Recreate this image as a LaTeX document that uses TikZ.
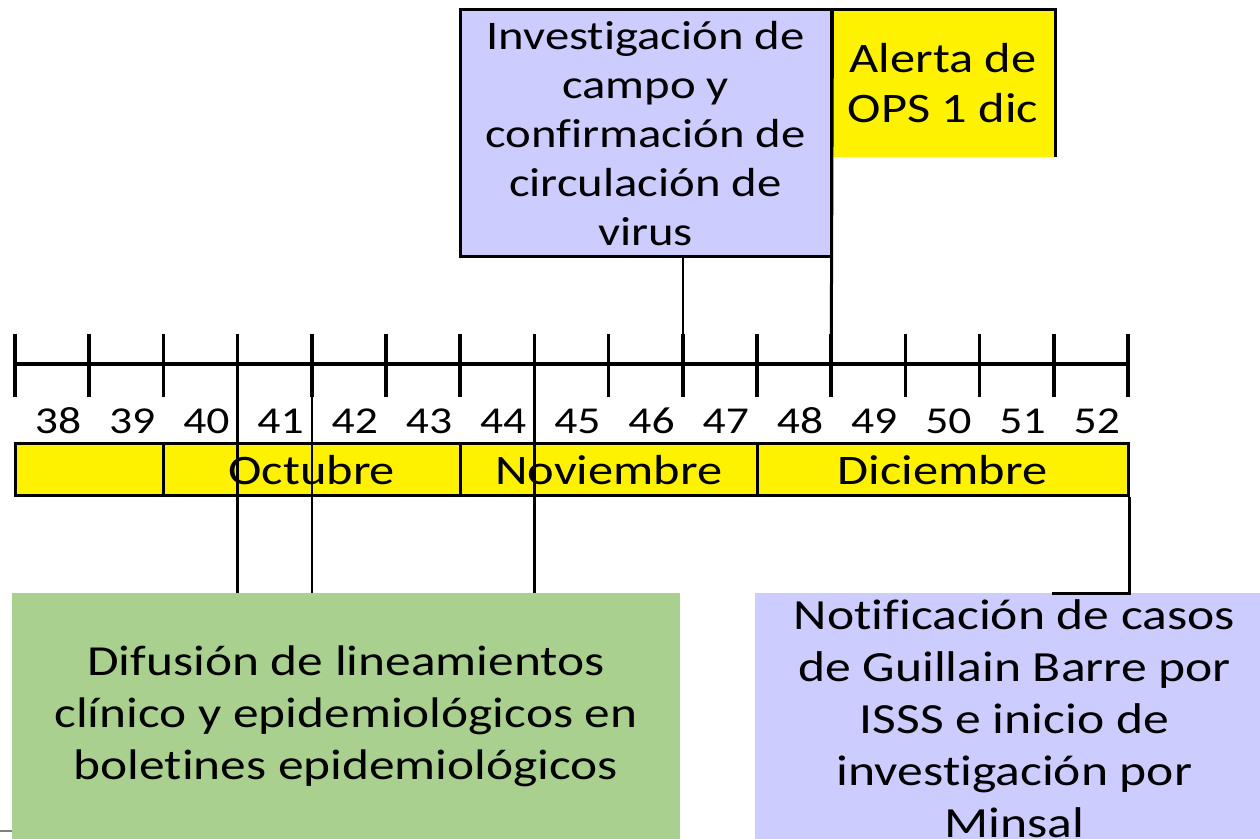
\documentclass[tikz,border=0pt]{standalone}
\usepackage{fontspec}
\setmainfont{Carlito}[FakeStretch=1.2,Ligatures=NoCommon]
\usepackage{xcolor}
\usetikzlibrary{calc}
\definecolor{lila}{RGB}{204,204,255}
\definecolor{verde}{RGB}{169,208,142}

\begin{document}
\begin{tikzpicture}[x=0.5pt,y=-0.5pt,
    caja/.style={align=center,inner sep=0pt},
    mes/.style={draw,fill=yellow,line width=1.5pt,minimum height=26pt,inner sep=0pt,font=\fontsize{21}{25}\selectfont},
    semana/.style={font=\fontsize{19}{22}\selectfont},
    linea/.style={line width=1.3pt}]
    \useasboundingbox (0,0) rectangle (1260,839);

    % eje de semanas
    \foreach \i in {0,...,15}
      \coordinate (t\i) at (15+74.2*\i,364);
    \draw[line width=1.75pt] (t0) -- (t15);
    \foreach \i in {0,...,15}
      \draw[line width=1.75pt] ($(t\i)+(0,-30)$) -- ($(t\i)+(0,33)$);
    \foreach \n [count=\i from 0] in {38,...,52}
      \node[semana] (w\n) at (58+74.2*\i,421) {\n};

    % meses
    \node[mes,minimum width=74.2pt] (m0) at ($(t0)!0.5!(t2)+(0,106)$) {};
    \node[mes,minimum width=148.4pt] (m1) at ($(t2)!0.5!(t6)+(0,106)$) {Octubre};
    \node[mes,minimum width=148.4pt] (m2) at ($(t6)!0.5!(t10)+(0,106)$) {Noviembre};
    \node[mes,minimum width=185.5pt] (m3) at ($(t10)!0.5!(t15)+(0,106)$) {Diciembre};

    % cajas de arriba
    \node[caja,draw,fill=lila,line width=1.5pt,minimum width=185.5pt,minimum height=123.5pt,
      font=\fontsize{20.3}{24.5}\selectfont] (invest) at (645.5,133.5)
      {Investigación de\\campo y\\confirmación de\\circulación de\\virus};
    \node[caja,fill=yellow,minimum width=112pt,minimum height=73.5pt,
      font=\fontsize{21}{25}\selectfont] (alerta) at (943,83.5) {Alerta de\\OPS 1 dic};
    \draw[line width=1.5pt] (alerta.north west) -- (alerta.north east) -- (alerta.south east);
    \draw[linea] (invest.south -| t9) -- (t9);
    \draw[line width=1.5pt] (invest.north east) -- (t11);

    % cajas de abajo
    \node[caja,fill=verde,minimum width=334pt,minimum height=123pt,
      font=\fontsize{21.4}{26}\selectfont] (difusion) at (346,716)
      {Difusión de lineamientos\\clínico y epidemiológicos en\\boletines epidemiológicos};
    \node[caja,fill=lila,minimum width=252.5pt,minimum height=123pt] (notif) at (1007.5,716) {};
    \node[caja,font=\fontsize{21.5}{26}\selectfont] (notiftxt) at ($(notif)+(7,3)$)
      {Notificación de casos\\de Guillain Barre por\\ISSS e inicio de\\investigación por\\Minsal};
    \foreach \i in {3,4,7}
      \draw[linea] (t\i) -- (difusion.north -| t\i);
    \coordinate (gb) at (1052,594);
    \draw[line width=1.5pt] (m3.south east) |- (gb);
    \draw[gray,line width=1pt] (0,831) -- (12,831);
\end{tikzpicture}
\end{document}
